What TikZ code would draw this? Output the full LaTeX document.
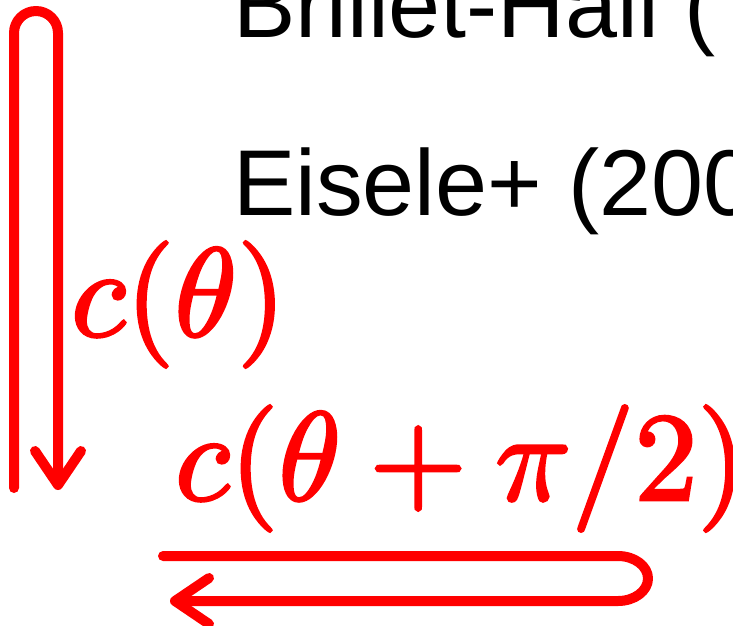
\documentclass[tikz,border=0pt]{standalone}
\usepackage{graphicx}
\usepackage{fontspec}
\newfontfamily\arialfont{Liberation Sans}
\usetikzlibrary{arrows.meta}
\newcommand\heavymath[1]{\special{pdf:literal direct 2 Tr 0.22 w}#1\special{pdf:literal direct 0 Tr}}
\tikzset{
  loop/.style={draw=red, line width=10pt, line cap=round, line join=round,
    -{Straight Barb[length=34pt, width=46pt, round]}},
  lbl/.style={anchor=base west, inner sep=0pt, outer sep=0pt},
  blacktext/.style={lbl, text=black, font=\arialfont\fontsize{93.5}{100}\selectfont},
  redmath/.style={lbl, text=red}
}
\begin{document}
\begin{tikzpicture}[x=1pt,y=-1pt]
\useasboundingbox (0,0) rectangle (733,625);
\clip (0,0) rectangle (733,625);
\node[blacktext] (brillet) at (233,37) {Brillet-Hall (};
\node[blacktext] (eisele) at (233,215) {Eisele+ (200};
\node[redmath] (ct) at (71,336) {\scalebox{12.6}{\heavymath{$c(\theta)$}}};
\node[redmath] (ctp) at (175,500) {\scalebox{12.6}{\heavymath{$c(\theta+\pi/2)$}}};
\coordinate (a1s) at (14,488);
\coordinate (a1e) at (58,490);
\draw[loop] (a1s) -- (14,33) arc[start angle=180, end angle=360, radius=22] -- (a1e);
\coordinate (a2s) at (163,556);
\coordinate (a2e) at (170,601);
\draw[loop] (a2s) -- (618,556) arc[start angle=-90, end angle=90, x radius=30, y radius=22.5] -- (a2e);
\end{tikzpicture}
\end{document}
